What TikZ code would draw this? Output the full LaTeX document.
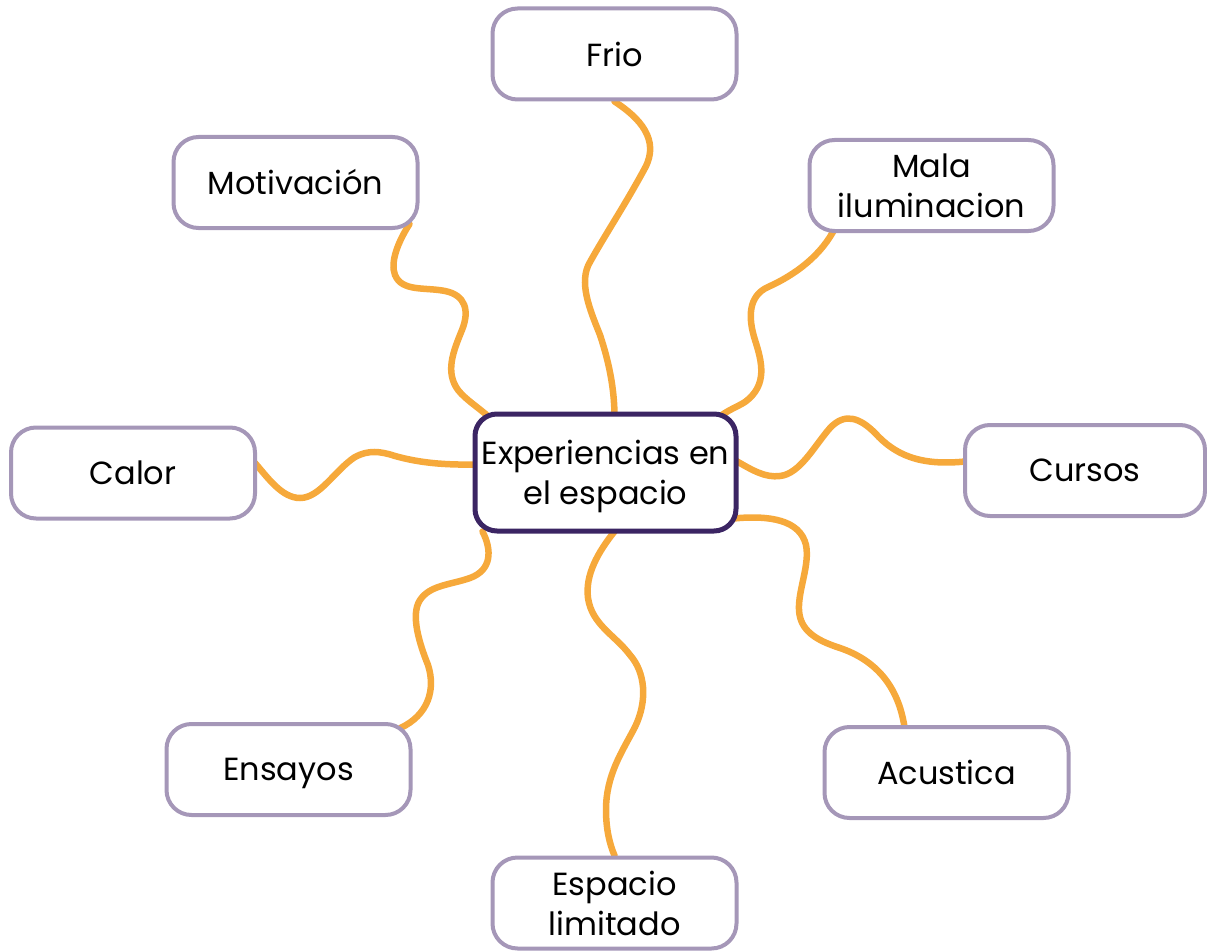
\documentclass[tikz,border=0pt]{standalone}
\usepackage{fontspec}
\setmainfont{Poppins}
\usetikzlibrary{backgrounds,calc}
\definecolor{boxc}{HTML}{A597B8}
\definecolor{cenc}{HTML}{3B2563}
\definecolor{linkc}{HTML}{F6A93B}
\begin{document}
\begin{tikzpicture}[x=1pt,y=-1pt,
  box/.style={draw=boxc, line width=4pt, rounded corners=25pt, fill=white,
    minimum width=244pt, minimum height=91pt, inner sep=0pt, align=center,
    font=\fontsize{32}{40}\selectfont},
  hub/.style={draw=cenc, line width=5pt, rounded corners=22pt, fill=white,
    minimum width=261pt, minimum height=117pt, inner sep=0pt, align=center,
    text depth=0pt, font=\fontsize{32}{40}\selectfont},
  link/.style={draw=linkc, line width=6.5pt, line cap=round}]
\useasboundingbox (0,0) rectangle (1207,952);
\node[box] (frio) at (614.5,54) {Frio};
\node[box] (mot) at (295.5,182.5) {Motivación};
\node[box] (mala) at (931.5,185.5) {Mala\\iluminacion};
\node[box] (calor) at (133,473) {Calor};
\node[hub] (c) at (605.5,472.5) {Experiencias en\\el espacio};
\node[box, minimum width=240pt] (cur) at (1085,470.5) {Cursos};
\node[box, text depth=0pt] (ens) at (288.5,769.5) {Ensayos};
\node[box] (acu) at (946.5,772.5) {Acustica};
\node[box] (esp) at (614.5,903) {Espacio\\limitado};
\begin{scope}[on background layer]
\draw[link] (frio.south) .. controls (640,118) and (660,140) .. (645,168)
  .. controls (625,205) and (605,235) .. (590,262)
  .. controls (578,282) and (590,310) .. (600,335)
  .. controls (610,365) and (614,390) .. ($(c.north)+(9,2)$);
\draw[link] ($(mot.south east)+(-10,-6)$) .. controls (398,242) and (390,262) .. (395,275)
  .. controls (402,292) and (425,287) .. (445,291)
  .. controls (465,295) and (470,310) .. (462,330)
  .. controls (453,352) and (445,372) .. (458,390)
  .. controls (466,400) and (478,407) .. ($(c.north west)+(17,6)$);
\draw[link] ($(mala.south west)+(28,-6)$) .. controls (822,255) and (795,275) .. (768,287)
  .. controls (748,296) and (748,318) .. (755,340)
  .. controls (762,362) and (768,385) .. (745,402)
  .. controls (737,407) and (728,410) .. ($(c.north east)+(-20,6)$);
\draw[link] ($(calor.east)+(-2,-10)$) .. controls (268,478) and (282,498) .. (300,498)
  .. controls (320,498) and (335,470) .. (355,457)
  .. controls (368,450) and (380,451) .. (395,456)
  .. controls (420,463) and (445,465) .. ($(c.west)+(2,-8)$);
\draw[link] ($(c.east)+(-3,-12)$) .. controls (752,470) and (765,478) .. (780,476)
  .. controls (800,474) and (815,445) .. (830,428)
  .. controls (845,412) and (860,418) .. (875,433)
  .. controls (895,455) and (920,466) .. ($(cur.west)+(2,-9)$);
\draw[link] ($(c.south east)+(-5,-15)$) .. controls (770,515) and (800,520) .. (806,545)
  .. controls (810,565) and (798,590) .. (799,610)
  .. controls (800,630) and (815,640) .. (840,648)
  .. controls (875,660) and (898,685) .. ($(acu.north)+(-42,2)$);
\draw[link] ($(c.south west)+(10,-2)$) .. controls (492,550) and (492,570) .. (470,578)
  .. controls (450,585) and (430,585) .. (420,600)
  .. controls (410,615) and (420,645) .. (428,665)
  .. controls (436,690) and (428,715) .. ($(ens.north east)+(-12,6)$);
\draw[link] ($(c.south)+(9,-2)$) .. controls (598,552) and (585,575) .. (588,598)
  .. controls (592,625) and (615,635) .. (630,655)
  .. controls (645,672) and (648,700) .. (635,727)
  .. controls (622,752) and (606,775) .. (606,810)
  .. controls (606,830) and (610,845) .. (esp.north);
\end{scope}
\end{tikzpicture}
\end{document}
